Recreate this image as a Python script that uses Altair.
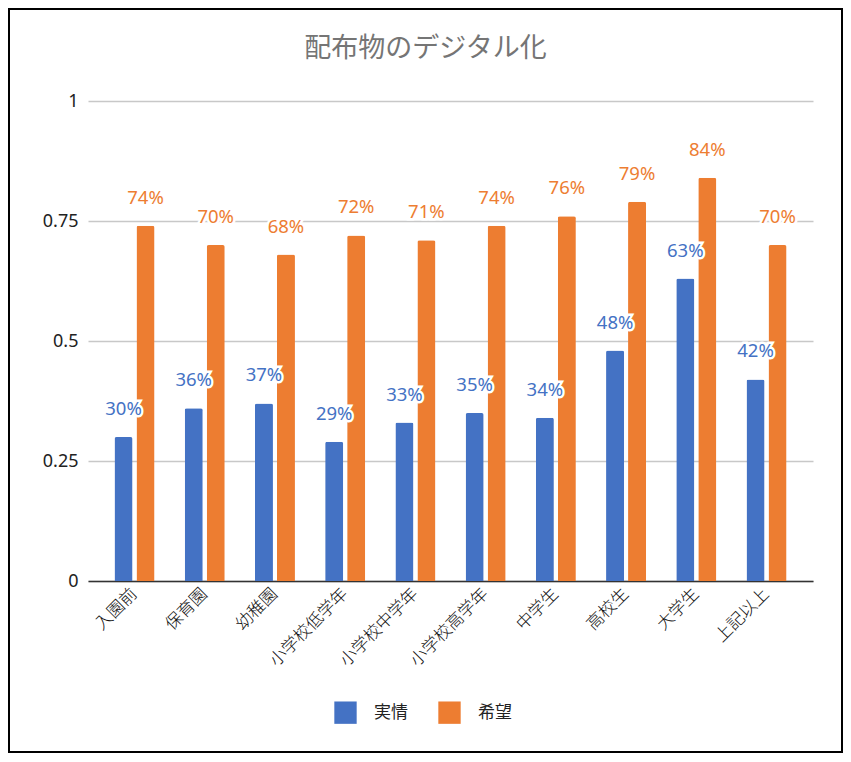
import altair as alt
import pandas as pd

categories = ['入園前', '保育園', '幼稚園', '小学校低学年', '小学校中学年', '小学校高学年', '中学生', '高校生', '大学生', '上記以上']
series_names = ['実情', '希望']
actual = [0.30, 0.36, 0.37, 0.29, 0.33, 0.35, 0.34, 0.48, 0.63, 0.42]
hope = [0.74, 0.70, 0.68, 0.72, 0.71, 0.74, 0.76, 0.79, 0.84, 0.70]
colors = ['#4472C4', '#ED7D31']
y_ticks = [0, 0.25, 0.5, 0.75, 1]
title_text = '配布物のデジタル化'

rows = []
for c, a, h in zip(categories, actual, hope):
    rows.append({'cat': c, 'series': series_names[0], 'value': a})
    rows.append({'cat': c, 'series': series_names[1], 'value': h})
df = pd.DataFrame(rows)

JP = 'Noto Sans CJK JP'
NUM = 'Noto Sans'

x_enc = alt.X('cat:N', sort=categories, title=None,
              scale=alt.Scale(paddingInner=0.43, paddingOuter=0.377),
              axis=alt.Axis(labelAngle=-45, labelAlign='right', labelBaseline='middle',
                            labelFont=JP, labelFontSize=17, labelFontWeight=300, labelColor='#111',
                            labelPadding=10, ticks=False, domainColor='#333',
                            domainWidth=1.5, grid=False))
xoff = alt.XOffset('series:N', sort=series_names,
                   scale=alt.Scale(paddingInner=0.18, paddingOuter=0))
y_enc = alt.Y('value:Q', title=None,
              scale=alt.Scale(domain=[0, 1], nice=False),
              axis=alt.Axis(values=y_ticks, format='.2~f', labelFont=NUM, labelFontSize=18,
                            labelColor='#222', labelPadding=10, ticks=False, domain=False,
                            gridColor='#C8C8C8', gridWidth=1.5))
color_enc = alt.Color('series:N', sort=series_names,
                      scale=alt.Scale(domain=series_names, range=colors),
                      legend=alt.Legend(title=None, orient='none', direction='horizontal',
                                        legendX=246, legendY=600, symbolType='square',
                                        symbolSize=500, symbolStrokeWidth=0,
                                        labelFont=JP, labelFontSize=17, labelColor='#222',
                                        labelOffset=17, columnPadding=30, padding=0))

bars = alt.Chart(df).mark_bar(cornerRadiusTopLeft=2, cornerRadiusTopRight=2).encode(
    x=x_enc, xOffset=xoff, y=y_enc, color=color_enc)

halo = alt.Chart(df).mark_text(dy=-22, baseline='alphabetic', fontSize=18.5, font=NUM,
                               stroke='white', strokeWidth=5, fill='white').encode(
    x=alt.X('cat:N', sort=categories), xOffset=xoff, y='value:Q',
    text=alt.Text('value:Q', format='.0%'))

labels = alt.Chart(df).mark_text(dy=-22, baseline='alphabetic', fontSize=18.5, font=NUM).encode(
    x=alt.X('cat:N', sort=categories), xOffset=xoff, y='value:Q',
    text=alt.Text('value:Q', format='.0%'),
    color=alt.Color('series:N', sort=series_names, scale=alt.Scale(domain=series_names, range=colors), legend=None))

border = alt.Chart(pd.DataFrame({'k': [0]})).mark_rect(
    fillOpacity=0, stroke='black', strokeWidth=2).encode(
    x=alt.value(-79), x2=alt.value(754), y=alt.value(-92), y2=alt.value(651))

chart = alt.layer(bars, halo, labels, border).properties(
    width=725, height=480, padding=0,
    title=alt.Title(title_text, font=JP, fontSize=27, fontWeight='normal', color='#757575',
                    anchor='middle', frame='bounds', offset=-68, baseline='middle')
).configure_view(stroke=None)

chart.save('out.html', embed_options={'renderer': 'svg', 'actions': False})
